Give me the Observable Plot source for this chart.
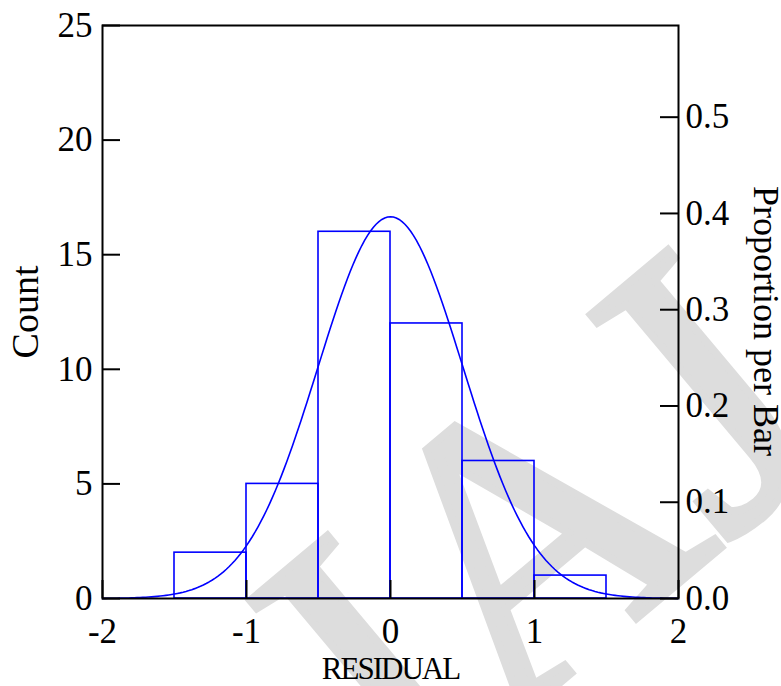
<!DOCTYPE html>
<html>
<head>
<meta charset="utf-8">
<script src="https://cdn.jsdelivr.net/npm/d3@7"></script>
<script src="https://cdn.jsdelivr.net/npm/@observablehq/plot@0.6"></script>
<style>
html, body { margin: 0; padding: 0; background: #ffffff; }
#wrap { position: relative; width: 781px; height: 686px; overflow: hidden; }
#wm { position: absolute; left: 0; top: 0; }
#chart { position: absolute; left: 0; top: 0; }
</style>
</head>
<body>
<div id="wrap">
  <svg id="wm" width="781" height="686">
    <text x="0" y="0" transform="translate(383,831) rotate(-40)" font-family="Liberation Serif" font-size="400" fill="#dddddd" stroke="#dddddd" stroke-width="8">JAJ</text>
  </svg>
  <div id="chart"></div>
</div>
<script>
// ---- data ----
const binStarts = [-1.5, -1.0, -0.5, 0.0, 0.5, 1.0];
const binWidth = 0.5;
const counts = [2, 5, 16, 12, 6, 1];
const xTicks = [-2, -1, 0, 1, 2];
const countTicks = [0, 5, 10, 15, 20, 25];
const propTicks = [0.0, 0.1, 0.2, 0.3, 0.4, 0.5];
// fitted normal curve parameters
const fitMean = 0.0;
const fitSD = 0.503;

const total = d3.sum(counts);
const bins = binStarts.map((s, i) => ({x1: s, x2: s + binWidth, count: counts[i]}));
const curveX = d3.range(-2, 2.0001, 0.02);
const curve = curveX.map(x => ({
  x,
  y: total * binWidth * Math.exp(-0.5 * ((x - fitMean) / fitSD) ** 2) / (fitSD * Math.sqrt(2 * Math.PI))
}));

const W = 781, H = 686;
const mL = 102, mR = 103, mT = 25, mB = 88;
const plotW = W - mL - mR, plotH = H - mT - mB;
const tickLen = 18;
const blue = "#0000ff";

const chart = Plot.plot({
  width: W,
  height: H,
  marginLeft: mL,
  marginRight: mR,
  marginTop: mT,
  marginBottom: mB,
  style: {background: "transparent", fontFamily: "'Liberation Serif', 'Times New Roman', serif", fontSize: "35px", color: "#000"},
  x: {domain: [-2, 2]},
  y: {domain: [0, 25]},
  marks: [
    Plot.rectY(bins, {x1: "x1", x2: "x2", y: "count", fill: "none", stroke: blue, strokeWidth: 1.6}),
    Plot.line(curve, {x: "x", y: "y", stroke: blue, strokeWidth: 1.6}),
    Plot.frame({stroke: "#000", strokeWidth: 2}),
    Plot.tickX(xTicks, {x: d => d, insetTop: plotH - tickLen, stroke: "#000", strokeWidth: 2}),
    Plot.tickY(countTicks, {y: d => d, insetRight: plotW - tickLen, stroke: "#000", strokeWidth: 2}),
    Plot.tickY(propTicks.map(p => p * total), {y: d => d, insetLeft: plotW - tickLen, stroke: "#000", strokeWidth: 2}),
    Plot.axisX(xTicks, {tickSize: 0, tickPadding: 20, label: null, tickFormat: d => String(d)}),
    Plot.axisY(countTicks, {anchor: "left", tickSize: 0, tickPadding: 10, label: null, tickFormat: d => String(d)}),
    Plot.axisY(propTicks.map(p => p * total), {anchor: "right", tickSize: 0, tickPadding: 7, label: null, tickFormat: d => (d / total).toFixed(1)}),
    Plot.text(["Count"], {text: d => d, frameAnchor: "left", textAnchor: "middle", lineAnchor: "middle", dx: -77, rotate: -90, fontSize: 38}),
    Plot.text(["Proportion per Bar"], {text: d => d, frameAnchor: "right", textAnchor: "middle", lineAnchor: "middle", dx: 87, dy: 9, rotate: 90, fontSize: 36}),
    Plot.text(["RESIDUAL"], {text: d => d, frameAnchor: "bottom", textAnchor: "middle", lineAnchor: "middle", dy: 71, fontSize: 31})
  ]
});
document.getElementById("chart").appendChild(chart);
d3.select(chart).selectAll("text").filter(function() { return this.textContent === "RESIDUAL"; })
  .attr("letter-spacing", "-2px");
</script>
</body>
</html>
